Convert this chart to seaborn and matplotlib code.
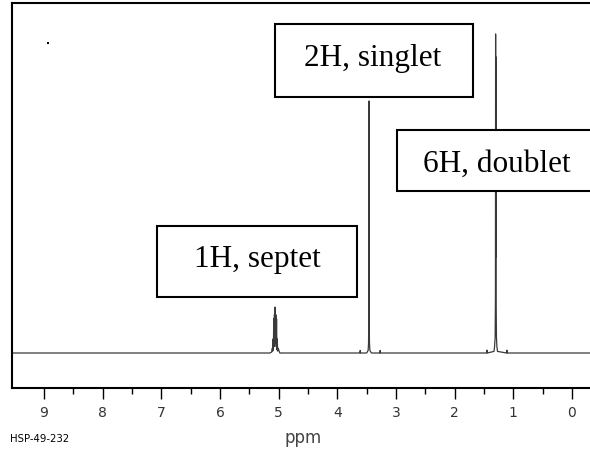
import matplotlib
matplotlib.use("Agg")
import matplotlib.pyplot as plt
import seaborn as sns
import pandas as pd
from matplotlib.patches import Rectangle

# ---- data (ppm, intensity; tallest peak = 100) ----
ppm = [9.60, 8.00, 5.15, 5.12, 5.108, 5.102, 5.096, 5.090, 5.084, 5.078, 5.072, 5.066,
       5.060, 5.054, 5.048, 5.042, 5.036, 5.030, 5.024, 5.018, 5.010, 4.98,
       3.70, 3.615, 3.61, 3.605, 3.50, 3.475, 3.468, 3.463, 3.460, 3.457, 3.452, 3.445,
       3.42, 3.275, 3.27, 3.265, 1.60, 1.455, 1.45, 1.445, 1.33, 1.32, 1.31, 1.305,
       1.302, 1.299, 1.296, 1.293, 1.288, 1.28, 1.27, 1.115, 1.11, 1.105, -0.60]
intensity = [0, 0, 0, 0.3, 1.5, 0.6, 4.4, 1.0, 10.7, 2.0, 12.0, 3.0,
             14.4, 3.0, 12.0, 2.0, 10.7, 1.0, 4.4, 0.6, 1.5, 0,
             0, 0, 0.8, 0, 0, 0.8, 3.0, 10.7, 79.0, 10.7, 3.0, 0.8,
             0, 0, 0.8, 0, 0, 0, 0.9, 0, 0.5, 2.0, 5.0, 17.0,
             100.0, 30.0, 92.8, 17.0, 5.0, 2.0, 0.5, 0, 0.9, 0, 0]
artifact_ppm = [8.93]
artifact_int = [97.2]

peak_labels = ["1H, septet", "2H, singlet", "6H, doublet"]
major_ticks = [9, 8, 7, 6, 5, 4, 3, 2, 1, 0]
minor_ticks = [8.5, 7.5, 6.5, 5.5, 4.5, 3.5, 2.5, 1.5, 0.5]

df = pd.DataFrame({"ppm": ppm, "intensity": intensity})

W, H = 590, 452
fig = plt.figure(figsize=(W / 100, H / 100), dpi=100)
sns.set_style("white")
plt.rcParams["font.family"] = ["DejaVu Sans"]

# axes: left px 12, right px 600 (beyond figure), top px 4, bottom px 389
ax = fig.add_axes([12 / W, (H - 389) / H, 588 / W, 385 / H])

sns.lineplot(data=df, x="ppm", y="intensity", ax=ax, sort=False, estimator=None,
             color="#3a3a3a", linewidth=0.9)
sns.scatterplot(x=artifact_ppm, y=artifact_int, ax=ax, color="black", s=2,
                linewidth=0, marker="s")

ax.set_xlim(9.5454, -0.4773)
ax.set_ylim(-10.97, 109.7)

ax.set_xticks(major_ticks)
ax.set_xticklabels([str(t) for t in major_ticks])
ax.set_xticks(minor_ticks, minor=True)
ax.set_yticks([])
ax.tick_params(axis="x", which="major", direction="out", length=8, width=1.0,
               color="black", labelsize=10, labelcolor="#333333", pad=4, bottom=True)
ax.tick_params(axis="x", which="minor", direction="out", length=4, width=1.0,
               color="black", bottom=True)
ax.set_xlabel("")
ax.set_ylabel("")
for s in ["left", "top", "bottom"]:
    ax.spines[s].set_visible(True)
    ax.spines[s].set_color("black")
    ax.spines[s].set_linewidth(1.5)
ax.spines["right"].set_visible(False)
ax.set_facecolor("white")

fig.text(303 / W, 1 - 438 / H, "ppm", ha="center", va="center", fontsize=12,
         color="#444444")
fig.text(10 / W, 1 - 439 / H, "HSP-49-232", ha="left", va="center", fontsize=7.3,
         color="black")

# annotation boxes (pixel layout)
boxes = [(157, 227, 357, 298), (275, 25, 473, 98), (397, 131, 640, 192)]
text_pos = [(257, 267), (373, 66), (497, 172)]
for label, (x0, y0, x1, y1), (tx, ty) in zip(peak_labels, boxes, text_pos):
    fig.add_artist(Rectangle((x0 / W, 1 - y1 / H), (x1 - x0) / W, (y1 - y0) / H,
                             transform=fig.transFigure, facecolor="white",
                             edgecolor="black", linewidth=1.5, zorder=5))
    fig.text(tx / W, 1 - ty / H, label, ha="center", va="baseline",
             fontsize=22.5, family="Liberation Serif", color="black", zorder=6)

fig.savefig("out.png", dpi=100, facecolor="white")
